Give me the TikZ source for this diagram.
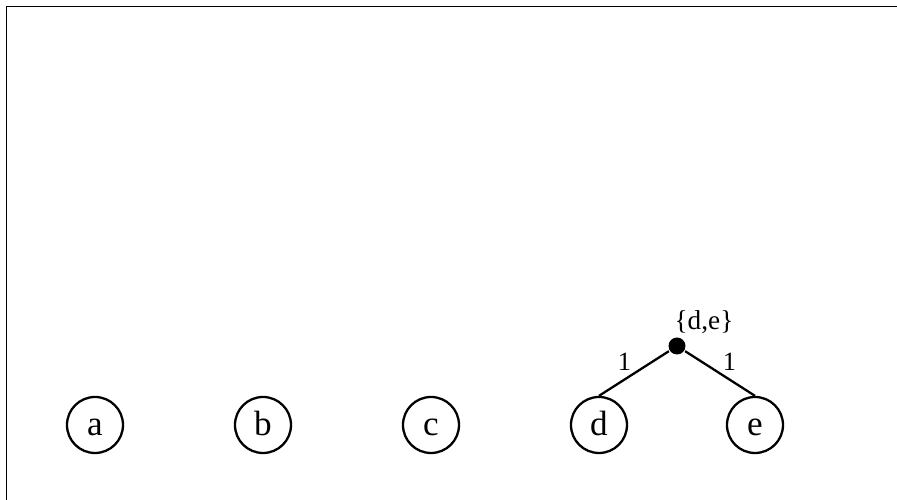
\documentclass[tikz,border=0pt]{standalone}
\usepackage{fontspec}
\setmainfont{Liberation Serif}
\usetikzlibrary{calc}

\begin{document}
\begin{tikzpicture}[line width=1.3pt,
  leaf/.style={draw, circle, minimum size=1.12cm, inner sep=0pt, text height=12pt, text depth=0pt, font=\fontsize{20}{22}\selectfont},
  merge/.style={fill, circle, minimum size=0.34cm, inner sep=0pt},
  wt/.style={font=\fontsize{15}{17}\selectfont, inner sep=1pt}]
\useasboundingbox (0,0) rectangle (17.94,10);
\draw[line width=1.1pt] (0.13,0) -- (0.13,9.87) -- (17.94,9.87);
\node[leaf] (a) at (1.90,1.50) {a};
\node[leaf] (b) at (5.26,1.50) {b};
\node[leaf] (c) at (8.62,1.50) {c};
\node[leaf] (d) at (11.98,1.50) {d};
\node[leaf] (e) at (15.10,1.50) {e};
\node[merge] (de) at (13.54,3.08) {};
\node[font=\fontsize{15.5}{17}\selectfont, inner sep=0pt] (delabel) at (14.08,3.56) {\{d,e\}};
\draw (de) -- node[wt, above left] {1} (d.north);
\draw (de) -- node[wt, above right] {1} (e.north);
\end{tikzpicture}
\end{document}
